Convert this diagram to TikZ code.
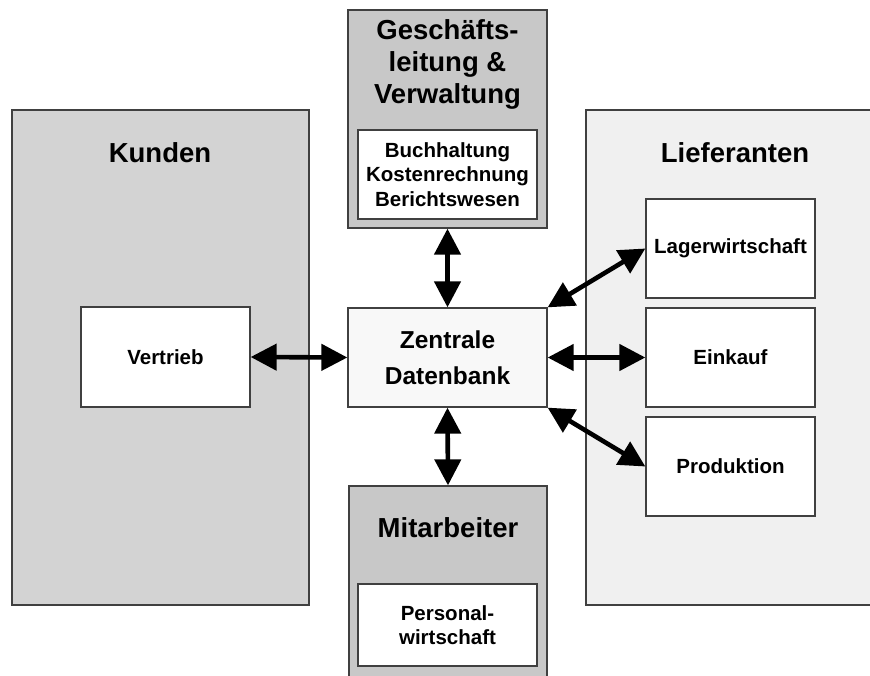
\documentclass[tikz,border=0pt]{standalone}
\usepackage{fontspec}
\setmainfont{Liberation Sans}
\usetikzlibrary{arrows.meta}
\definecolor{kundengray}{RGB}{211,211,211}
\definecolor{darkgray}{RGB}{200,200,200}
\definecolor{liefgray}{RGB}{240,240,240}
\definecolor{zentgray}{RGB}{248,248,248}
\definecolor{edgegray}{RGB}{64,64,64}
\begin{document}
\begin{tikzpicture}[x=1pt,y=-1pt,
  box/.style={draw=edgegray, line width=1.3pt, rectangle, inner sep=0pt},
  bigtxt/.style={font=\fontsize{27.5}{32}\selectfont\bfseries, align=center, inner sep=0pt},
  midtxt/.style={font=\fontsize{24.5}{36}\selectfont\bfseries, align=center, inner sep=0pt},
  smalltxt/.style={font=\fontsize{20.5}{24.5}\selectfont\bfseries, align=center},
  dbl/.style={line width=4.6pt, {Triangle[length=26pt,width=26pt]}-{Triangle[length=26pt,width=26pt]}, shorten <=0pt, shorten >=0pt}]
\useasboundingbox (0,0) rectangle (870,676);
\fill[white] (0,0) rectangle (870,676);
\clip (0,0) rectangle (870,676);

% outer groups
\node[box, fill=kundengray, minimum width=297, minimum height=495] (kunden) at (160.5,357.5) {};
\node[box, fill=liefgray, minimum width=298, minimum height=495] (liefer) at (735,357.5) {};
\node[box, fill=darkgray, minimum width=199, minimum height=218] (gl) at (447.5,119) {};
\node[box, fill=darkgray, minimum width=198, minimum height=214] (mitarb) at (448,593) {};

% titles
\node[bigtxt] (kundentitle) at (160,153) {Kunden};
\node[bigtxt] (liefertitle) at (735,153) {Lieferanten};
\node[bigtxt] (gltitle) at (447.5,64) {Geschäfts-\\leitung \&\\Verwaltung};
\node[bigtxt] (mitarbtitle) at (448,528) {Mitarbeiter};

% inner boxes
\node[box, fill=white, smalltxt, minimum width=169, minimum height=100] (vertrieb) at (165.5,357) {Vertrieb};
\node[box, fill=zentgray, midtxt, minimum width=199, minimum height=99] (zentrale) at (447.5,357.5) {Zentrale\\Datenbank};
\node[box, fill=white, smalltxt, minimum width=179, minimum height=89] (buch) at (447.5,174.5) {Buchhaltung\\Kostenrechnung\\Berichtswesen};
\node[box, fill=white, smalltxt, minimum width=179, minimum height=82] (personal) at (447.5,625) {Personal-\\wirtschaft};
\node[box, fill=white, smalltxt, minimum width=169, minimum height=99] (lager) at (730.5,248.5) {Lagerwirtschaft};
\node[box, fill=white, smalltxt, minimum width=169, minimum height=99] (einkauf) at (730.5,357.5) {Einkauf};
\node[box, fill=white, smalltxt, minimum width=169, minimum height=99] (prod) at (730.5,466.5) {Produktion};

% connectors
\draw[dbl] (vertrieb.east) -- (zentrale.west);
\draw[dbl] (gl.south) -- (zentrale.north);
\draw[dbl] (zentrale.south) -- (mitarb.north);
\draw[dbl] (zentrale.north east) -- (lager.west);
\draw[dbl] (zentrale.east) -- (einkauf.west);
\draw[dbl] (zentrale.south east) -- (prod.west);
\end{tikzpicture}
\end{document}
